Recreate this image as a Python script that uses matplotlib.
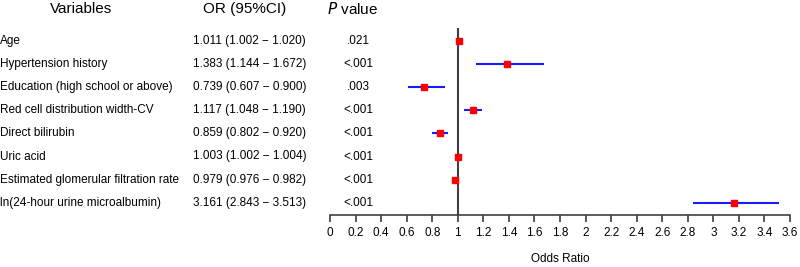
import matplotlib
matplotlib.use("Agg")
import matplotlib.pyplot as plt
import matplotlib.transforms as mtransforms

plt.rcParams['font.family'] = ['Liberation Sans', 'DejaVu Sans']

variables = ["Age", "Hypertension history", "Education (high school or above)",
             "Red cell distribution width-CV", "Direct bilirubin", "Uric acid",
             "Estimated glomerular filtration rate", "ln(24-hour urine microalbumin)"]
odds = [1.011, 1.383, 0.739, 1.117, 0.859, 1.003, 0.979, 3.161]
lower = [1.002, 1.144, 0.607, 1.048, 0.802, 1.002, 0.976, 2.843]
upper = [1.020, 1.672, 0.900, 1.190, 0.920, 1.004, 0.982, 3.513]
pvals = [".021", "<.001", ".003", "<.001", "<.001", "<.001", "<.001", "<.001"]
xticks = [0, 0.2, 0.4, 0.6, 0.8, 1, 1.2, 1.4, 1.6, 1.8, 2, 2.2, 2.4, 2.6, 2.8, 3, 3.2, 3.4, 3.6]
xticklabels = ["0", "0.2", "0.4", "0.6", "0.8", "1", "1.2", "1.4", "1.6", "1.8", "2",
               "2.2", "2.4", "2.6", "2.8", "3", "3.2", "3.4", "3.6"]

W, H = 800, 267
fig = plt.figure(figsize=(8, 2.67), dpi=100)
ax = fig.add_axes([330 / W, (H - 215) / H, 460 / W, (215 - 28) / H])

rows = list(range(len(variables)))
ax.hlines(rows, lower, upper, color="#1a1aff", lw=1.5, zorder=2)
ax.plot(odds, rows, "s", color="#ff0000", ms=4.8, zorder=3)
ax.axvline(1, color="#404040", lw=1.5, zorder=1)

ax.set_xlim(0, 3.6)
ax.set_ylim((215 - 41) / 23.1, (28 - 41) / 23.1)
ax.set_xticks(xticks)
ax.set_xticklabels(xticklabels, fontsize=8.5)
ax.set_yticks([])
for s in ["top", "right", "left"]:
    ax.spines[s].set_visible(False)
ax.spines["bottom"].set_color("#404040")
ax.spines["bottom"].set_linewidth(1.2)
ax.tick_params(axis="x", direction="out", length=5, width=1.2, color="#404040", pad=4)
ax.set_xlabel("Odds Ratio", fontsize=8.5, labelpad=10)

trans = mtransforms.blended_transform_factory(fig.transFigure, ax.transData)
for i, (v, o, lo, hi, p) in enumerate(zip(variables, odds, lower, upper, pvals)):
    ax.text(0 / W, i, v, transform=trans, ha="left", va="center", fontsize=8.5, clip_on=False)
    ax.text(193 / W, i, f"{o:.3f} ({lo:.3f} \u2212 {hi:.3f})", transform=trans,
            ha="left", va="center", fontsize=8.5, clip_on=False)
    ax.text(358 / W, i, p, transform=trans, ha="center", va="center", fontsize=8.5, clip_on=False)

hy = 1 - 9 / H
fig.text(81 / W, hy, "Variables", ha="center", va="center", fontsize=11)
fig.text(245 / W, hy, "OR (95%CI)", ha="center", va="center", fontsize=11)
fig.text(353 / W, hy, r"$P$ value", ha="center", va="center", fontsize=11)

fig.savefig("out.png", dpi=100)
